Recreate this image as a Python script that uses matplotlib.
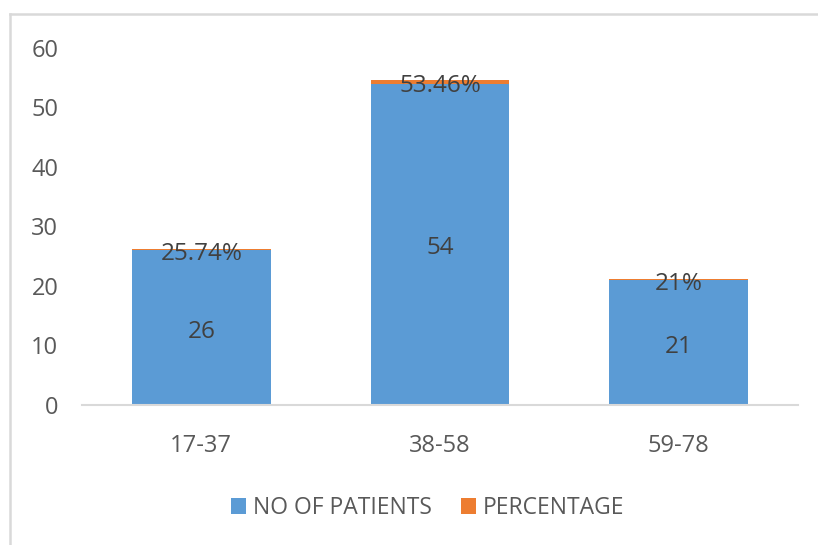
import matplotlib.pyplot as plt
from matplotlib.lines import Line2D

age_groups = ["17-37", "38-58", "59-78"]
patients = [26, 54, 21]
percentage = [0.2574, 0.5346, 0.21]
pct_labels = ["25.74%", "53.46%", "21%"]

BLUE = "#5B9BD5"
ORANGE = "#ED7D31"
TEXT = "#595959"

plt.rcParams["font.family"] = ["Open Sans", "DejaVu Sans"]

fig = plt.figure(figsize=(8.18, 5.45), dpi=100)
ax = fig.add_axes([0.1002, 0.2569, 0.8754, 0.6551])

x = range(len(age_groups))
b1 = ax.bar(x, patients, width=0.58, color=BLUE, label="NO OF PATIENTS")
b2 = ax.bar(x, percentage, width=0.58, bottom=patients, color=ORANGE, label="PERCENTAGE")

for rect, v in zip(b1, patients):
    ax.annotate(str(v), (rect.get_x() + rect.get_width() / 2, v / 2),
                xytext=(0, -3), textcoords="offset points",
                ha="center", va="center", fontsize=17.5, color="#404040")
for rect, base, p, lab in zip(b2, patients, percentage, pct_labels):
    ax.annotate(lab, (rect.get_x() + rect.get_width() / 2, base + p / 2),
                xytext=(0, -3), textcoords="offset points",
                ha="center", va="center", fontsize=17.5, color="#404040")

ax.set_xlim(-0.5, 2.5)
ax.set_ylim(0, 60)
ax.set_yticks(range(0, 61, 10))
ax.set_xticks(list(x))
ax.set_xticklabels(age_groups)

for s in ["top", "right", "left"]:
    ax.spines[s].set_visible(False)
ax.spines["bottom"].set_color("#d9d9d9")
ax.spines["bottom"].set_linewidth(1.5)
ax.tick_params(axis="both", length=0, labelsize=17, colors=TEXT)
ax.tick_params(axis="y", pad=17)
ax.tick_params(axis="x", pad=21)

# outer frame (top and left edges only visible)
fig.add_artist(Line2D([0.0122, 1.0], [0.974, 0.974], color="#d9d9d9", lw=1.8,
                      transform=fig.transFigure))
fig.add_artist(Line2D([0.0122, 0.0122], [0.0, 0.974], color="#d9d9d9", lw=1.8,
                      transform=fig.transFigure))

fig.legend(handles=[b1, b2], loc="center", bbox_to_anchor=(0.523, 0.068),
           ncol=2, frameon=False, fontsize=16.5, labelcolor=TEXT,
           handlelength=0.65, handleheight=0.65, handletextpad=0.3, columnspacing=1.3)

fig.savefig("out.png", dpi=100, facecolor="white")
